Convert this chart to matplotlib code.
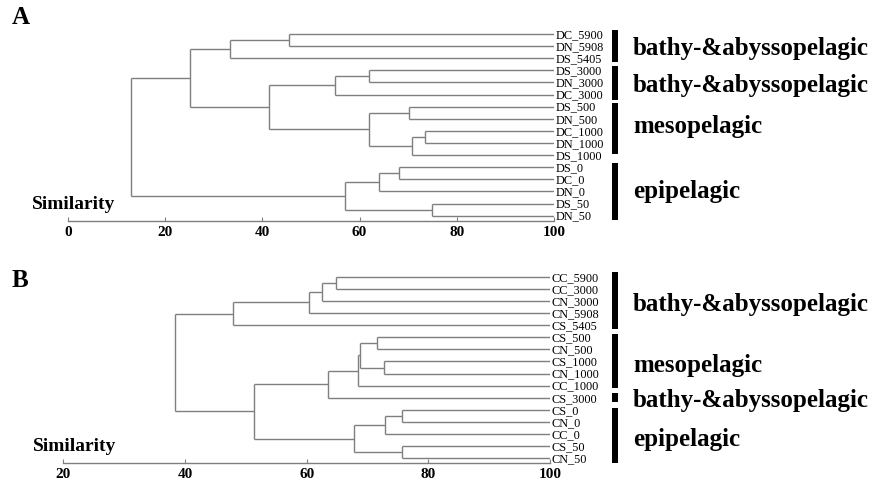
import matplotlib
matplotlib.use("Agg")
import matplotlib.pyplot as plt
from matplotlib.patches import Rectangle
from matplotlib.transforms import blended_transform_factory

plt.rcParams['font.family'] = ['Liberation Serif', 'DejaVu Serif']

# ---------------- data ----------------
leaves_a = ["DC_5900", "DN_5908", "DS_5405", "DS_3000", "DN_3000", "DC_3000",
            "DS_500", "DN_500", "DC_1000", "DN_1000", "DS_1000",
            "DS_0", "DC_0", "DN_0", "DS_50", "DN_50"]
# merges: (child1, child2, similarity); new node ids start at len(leaves)
merges_a = [(0, 1, 45.5), (16, 2, 33.3), (3, 4, 61.9), (18, 5, 55.0),
            (6, 7, 70.1), (8, 9, 73.5), (21, 10, 70.7), (20, 22, 62.0),
            (19, 23, 41.4), (17, 24, 25.0), (11, 12, 68.2), (26, 13, 63.9),
            (14, 15, 74.8), (27, 28, 56.9), (25, 29, 12.9)]
groups_a = ["bathy-&abyssopelagic", "bathy-&abyssopelagic", "mesopelagic", "epipelagic"]
ticks_a = [0, 20, 40, 60, 80, 100]

leaves_b = ["CC_5900", "CC_3000", "CN_3000", "CN_5908", "CS_5405",
            "CS_500", "CN_500", "CS_1000", "CN_1000", "CC_1000", "CS_3000",
            "CS_0", "CN_0", "CC_0", "CS_50", "CN_50"]
merges_b = [(0, 1, 64.8), (16, 2, 62.6), (17, 3, 60.4), (18, 4, 47.9),
            (5, 6, 71.6), (7, 8, 72.65), (20, 21, 68.7), (22, 9, 68.4),
            (23, 10, 63.5), (11, 12, 75.6), (25, 13, 72.9), (14, 15, 75.6),
            (26, 27, 67.8), (24, 28, 51.3), (19, 29, 38.4)]
groups_b = ["bathy-&abyssopelagic", "mesopelagic", "bathy-&abyssopelagic", "epipelagic"]
ticks_b = [20, 40, 60, 80, 100]

# ---------------- layout (pixels / leaf-index units) ----------------
W, H = 875, 481
bars_a = [(-0.36, 2.34), (2.62, 5.43), (5.70, 9.91), (10.65, 15.36)]
texty_a = [1.10, 4.13, 7.57, 12.94]
bars_b = [(-0.36, 4.32), (4.73, 9.19), (9.60, 10.37), (10.84, 15.41)]
texty_b = [2.25, 7.21, 10.10, 13.40]

LINE = '#7f7f7f'

fig = plt.figure(figsize=(W / 100, H / 100), dpi=100)


def px_rect(left, right, top, bottom):
    return [left / W, 1 - bottom / H, (right - left) / W, (bottom - top) / H]


def draw_panel(ax, leaves, merges, xmin, ticks, groups, bars, texty, ylow):
    n = len(leaves)
    pos = {i: (100.0, float(i)) for i in range(n)}
    for k, (a, b, s) in enumerate(merges):
        xa, ya = pos[a]
        xb, yb = pos[b]
        ax.plot([xa, s], [ya, ya], color=LINE, lw=1.0, solid_capstyle='butt')
        ax.plot([xb, s], [yb, yb], color=LINE, lw=1.0, solid_capstyle='butt')
        ax.plot([s, s], [ya, yb], color=LINE, lw=1.0, solid_capstyle='butt')
        pos[n + k] = (s, (ya + yb) / 2)
    for i, lab in enumerate(leaves):
        ax.text(100.3, i, lab, ha='left', va='center', fontsize=8.8,
                clip_on=False)
    ax.set_xlim(xmin, 100)
    ax.set_ylim(ylow, -1)
    for sp in ['top', 'left', 'right']:
        ax.spines[sp].set_visible(False)
    ax.spines['bottom'].set_color(LINE)
    ax.spines['bottom'].set_linewidth(1.0)
    ax.set_yticks([])
    ax.set_xticks(ticks)
    ax.set_xticklabels([str(t) for t in ticks], fontweight='bold', fontsize=11)
    ax.tick_params(axis='x', direction='in', length=3, color=LINE, pad=2.5)
    tr = blended_transform_factory(fig.transFigure, ax.transData)
    for (y0, y1), ty, g in zip(bars, texty, groups):
        ax.add_patch(Rectangle((612 / W, y0), 6 / W, y1 - y0, transform=tr,
                               color='black', clip_on=False, lw=0))
        ax.text(633 / W, ty, g, transform=tr, ha='left', va='center',
                fontsize=18, fontweight='bold', clip_on=False)


ax_a = fig.add_axes(px_rect(68, 554, 22.9, 222.3))
draw_panel(ax_a, leaves_a, merges_a, 0, ticks_a, groups_a, bars_a, texty_a, 15.47)

ax_b = fig.add_axes(px_rect(63.3, 550, 265.6, 464.3))
draw_panel(ax_b, leaves_b, merges_b, 20, ticks_b, groups_b, bars_b, texty_b, 15.41)

fig.text(12 / W, 1 - 18 / H, "A", fontsize=18, fontweight='bold', ha='left', va='center')
fig.text(12 / W, 1 - 281 / H, "B", fontsize=18, fontweight='bold', ha='left', va='center')
fig.text(32 / W, 1 - 205 / H, "Similarity", fontsize=14, fontweight='bold', ha='left', va='center')
fig.text(33 / W, 1 - 446.5 / H, "Similarity", fontsize=14, fontweight='bold', ha='left', va='center')

fig.savefig("out.png", dpi=100)
